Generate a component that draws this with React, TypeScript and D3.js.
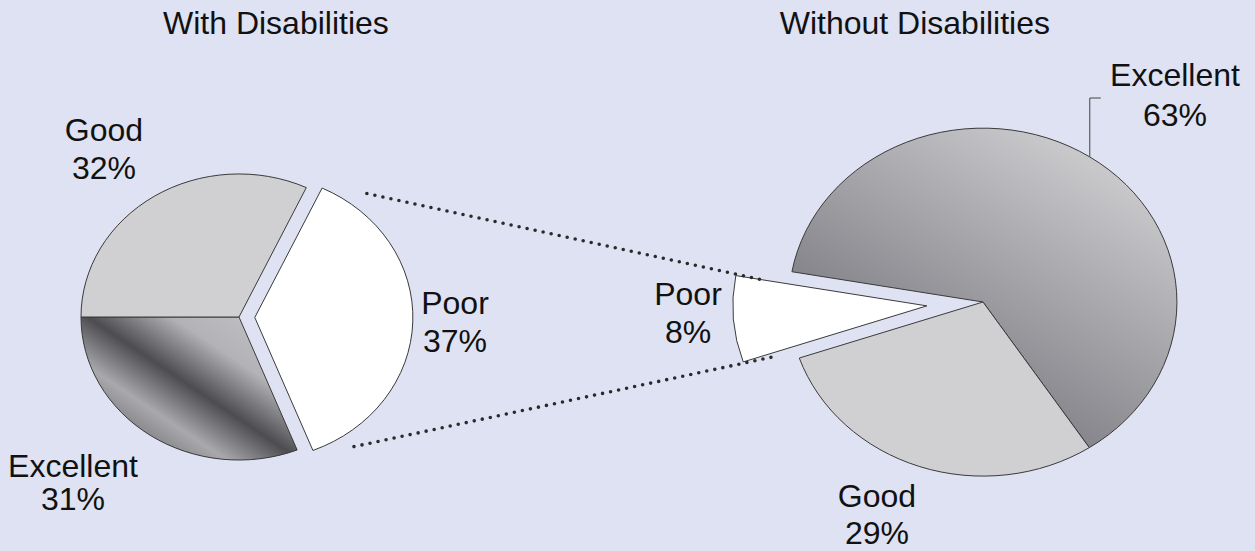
import React, { useRef, useEffect } from "react";
import * as d3 from "d3";

// slices listed clockwise, the way the two pies are drawn
const categories = ["Poor", "Excellent", "Good"];
const withValues = [37, 31, 32];
const withoutValues = [8, 63, 29];
const titles = ["With Disabilities", "Without Disabilities"];

const WIDTH = 1255;
const HEIGHT = 551;
const FONT = "'Liberation Sans', Arial, Helvetica, sans-serif";
const FONT_SIZE = 32;

type PieLayout = {
  key: string;
  cx: number;
  cy: number;
  rx: number;
  ry: number;
  start: number; // degrees, clockwise from 12 o'clock
  explode: number; // fraction of radius for the Poor slice
  // label: x offset from centre, baseline offsets of the two lines
  labels: Record<string, [number, number, number]>;
};

const leftPie: PieLayout = {
  key: "with",
  cx: 239,
  cy: 317,
  rx: 158,
  ry: 143,
  start: 25.2,
  explode: 0.1,
  labels: {
    Good: [-135, -176, -138],
    Excellent: [-166, 160, 193],
    Poor: [216, -3, 35],
  },
};

const rightPie: PieLayout = {
  key: "without",
  cx: 983,
  cy: 302,
  rx: 194,
  ry: 174,
  start: 251.2,
  explode: 0.29,
  labels: {
    Excellent: [192, -216, -176],
    Good: [-106, 205, 242],
    Poor: [-295, 3, 41],
  },
};

const fills: Record<string, string> = {
  Good: "#d0d0d3",
  Poor: "#ffffff",
};

const rad = (deg: number) => (deg * Math.PI) / 180;

export default function App() {
  const ref = useRef<SVGSVGElement | null>(null);

  useEffect(() => {
    if (!ref.current) return;
    const svg = d3.select(ref.current);
    svg.selectAll("*").remove();

    svg
      .append("rect")
      .attr("width", WIDTH)
      .attr("height", HEIGHT)
      .attr("fill", "#dfe2f2");

    const defs = svg.append("defs");

    // banded metallic fill on the left Excellent slice
    const gl = defs
      .append("linearGradient")
      .attr("id", "exc-with")
      .attr("gradientUnits", "userSpaceOnUse")
      .attr("gradientTransform", `scale(${1 / leftPie.rx},${1 / leftPie.ry})`)
      .attr("x1", -76)
      .attr("y1", 125)
      .attr("x2", 6)
      .attr("y2", 3);
    [
      [0, "#8e8e92"],
      [0.14, "#a9a9ad"],
      [0.42, "#4c4c51"],
      [0.74, "#b3b3b7"],
      [1, "#bdbdc1"],
    ].forEach(([o, c]) => gl.append("stop").attr("offset", o).attr("stop-color", c));

    // smooth shading on the right Excellent slice
    const gr = defs
      .append("linearGradient")
      .attr("id", "exc-without")
      .attr("gradientUnits", "userSpaceOnUse")
      .attr("gradientTransform", `scale(${1 / rightPie.rx},${1 / rightPie.ry})`)
      .attr("x1", -36)
      .attr("y1", 60)
      .attr("x2", 89)
      .attr("y2", -149);
    [
      [0, "#86868c"],
      [1, "#c8c8cb"],
    ].forEach(([o, c]) => gr.append("stop").attr("offset", o).attr("stop-color", c));

    const pieGen = d3
      .pie<number>()
      .sort(null)
      .value((d) => d);

    const arc = d3
      .arc<d3.PieArcDatum<number>>()
      .innerRadius(0)
      .outerRadius(1);

    const onEllipse = (p: PieLayout, deg: number, r: number, ox = 0, oy = 0) => [
      p.cx + ox + Math.sin(rad(deg)) * r * p.rx,
      p.cy + oy - Math.cos(rad(deg)) * r * p.ry,
    ];

    const drawPie = (p: PieLayout, values: number[]) => {
      const arcs = pieGen
        .startAngle(rad(p.start))
        .endAngle(rad(p.start) + 2 * Math.PI)(values);

      const result: Record<string, { a0: number; a1: number; ox: number; oy: number }> = {};

      arcs.forEach((a, i) => {
        const cat = categories[i];
        const mid = (a.startAngle + a.endAngle) / 2;
        const ex = cat === "Poor" ? p.explode : 0;
        const ox = Math.sin(mid) * ex * p.rx;
        const oy = -Math.cos(mid) * ex * p.ry;
        result[cat] = {
          a0: (a.startAngle * 180) / Math.PI,
          a1: (a.endAngle * 180) / Math.PI,
          ox,
          oy,
        };
        svg
          .append("g")
          .attr("transform", `translate(${p.cx + ox},${p.cy + oy}) scale(${p.rx},${p.ry})`)
          .append("path")
          .attr("d", arc(a))
          .attr("fill", cat === "Excellent" ? `url(#exc-${p.key})` : fills[cat])
          .attr("stroke", "#3a3a3a")
          .attr("stroke-width", 1)
          .attr("vector-effect", "non-scaling-stroke");

        const [lx, ly1, ly2] = p.labels[cat];
        const t = svg
          .append("text")
          .attr("text-anchor", "middle")
          .attr("font-family", FONT)
          .attr("font-size", FONT_SIZE)
          .attr("fill", "#111");
        t.append("tspan")
          .attr("x", p.cx + lx)
          .attr("y", p.cy + ly1)
          .text(cat);
        t.append("tspan")
          .attr("x", p.cx + lx)
          .attr("y", p.cy + ly2)
          .text(`${values[i]}%`);
      });
      return result;
    };

    const L = drawPie(leftPie, withValues);
    const R = drawPie(rightPie, withoutValues);

    // series lines joining the two Poor slices
    const lp = L.Poor;
    const rp = R.Poor;
    const joins = [
      [onEllipse(leftPie, 39.3, 1.12, lp.ox, lp.oy), onEllipse(rightPie, rp.a1, 0.86, rp.ox, rp.oy)],
      [onEllipse(leftPie, 145.2, 1.1, lp.ox, lp.oy), onEllipse(rightPie, rp.a0, 0.84, rp.ox, rp.oy + 4)],
    ];
    joins.forEach(([a, b]) => {
      svg
        .append("line")
        .attr("x1", a[0])
        .attr("y1", a[1])
        .attr("x2", b[0])
        .attr("y2", b[1])
        .attr("stroke", "#2a2a2a")
        .attr("stroke-width", 3.6)
        .attr("stroke-linecap", "round")
        .attr("stroke-dasharray", "0 8.2");
    });

    // leader for the right Excellent label
    const ex = R.Excellent;
    const [px, py] = onEllipse(rightPie, (ex.a0 + ex.a1) / 2, 1);
    const topY = rightPie.cy + rightPie.labels.Excellent[1] + 12;
    svg
      .append("path")
      .attr("d", d3.line()([[px, py], [px, topY], [px + 11, topY]]))
      .attr("fill", "none")
      .attr("stroke", "#444")
      .attr("stroke-width", 1);

    // titles
    svg
      .append("text")
      .attr("x", 163)
      .attr("y", 34)
      .attr("font-family", FONT)
      .attr("font-size", FONT_SIZE)
      .attr("fill", "#111")
      .text(titles[0]);
    svg
      .append("text")
      .attr("x", 1050)
      .attr("y", 34)
      .attr("text-anchor", "end")
      .attr("font-family", FONT)
      .attr("font-size", FONT_SIZE)
      .attr("fill", "#111")
      .text(titles[1]);
  }, []);

  return (
    <div style={{ position: "fixed", left: 0, top: 0 }}>
      <svg ref={ref} width={WIDTH} height={HEIGHT} style={{ display: "block" }} />
    </div>
  );
}
